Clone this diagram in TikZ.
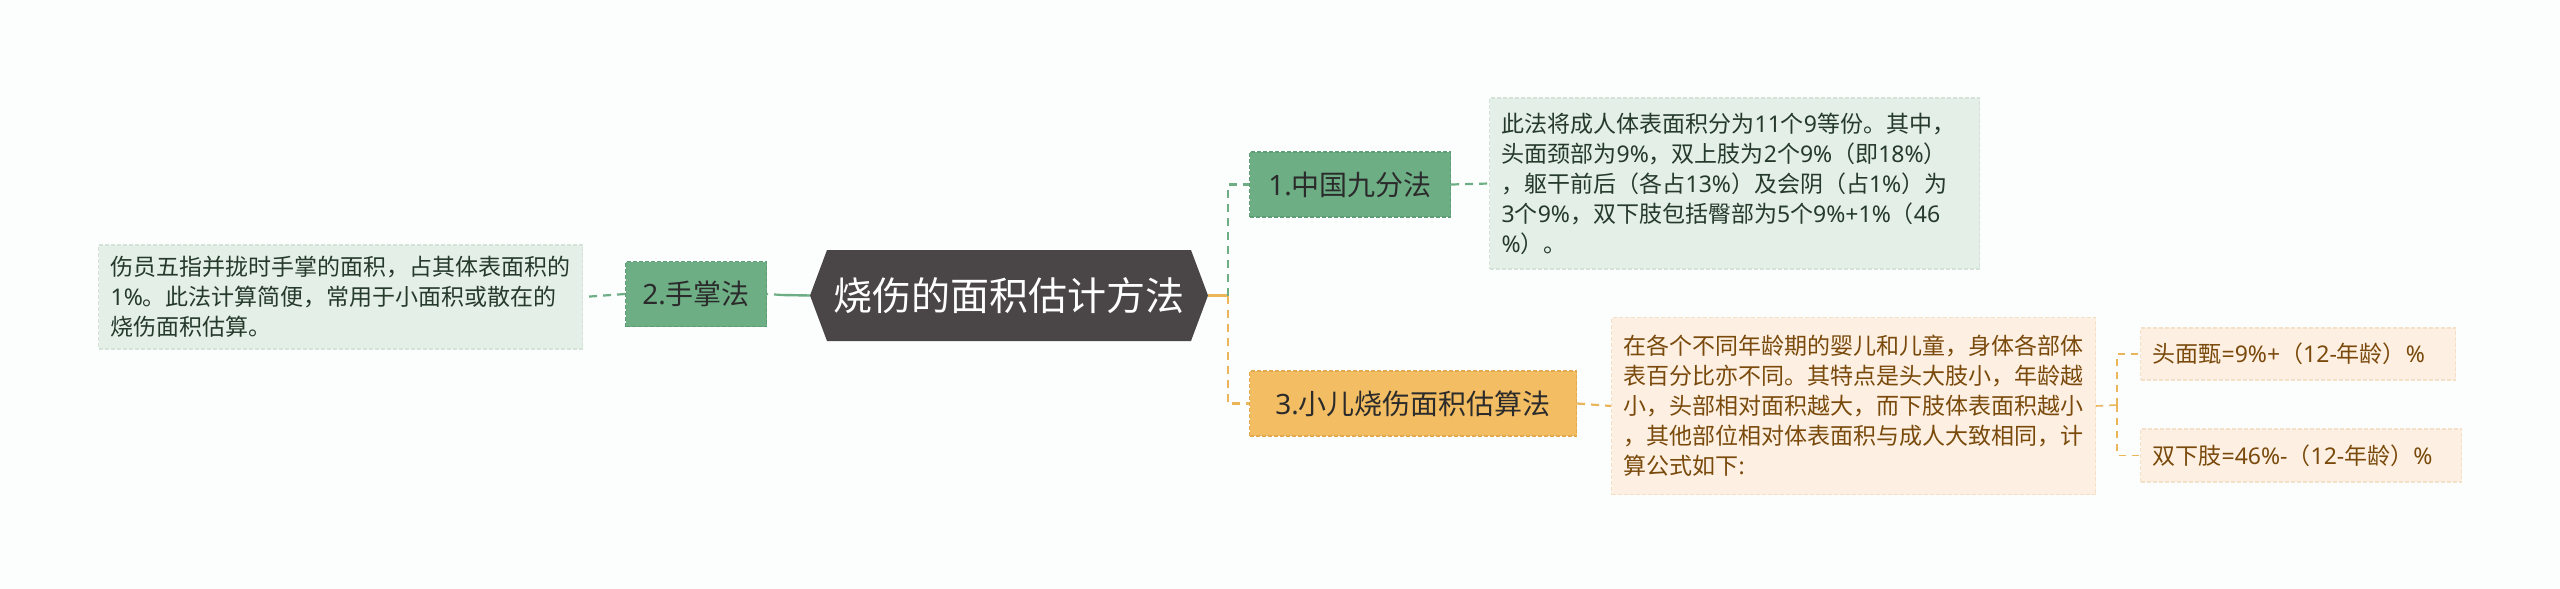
\documentclass[tikz,border=0pt]{standalone}
\usepackage{fontspec}
\setmainfont{Noto Sans CJK SC}
\newfontfamily\latinf{Noto Sans}
\newcommand{\nm}[1]{{\latinf #1}}
\usetikzlibrary{shapes.symbols}
\definecolor{bgc}{HTML}{FCFEFE}
\definecolor{cdark}{HTML}{4A4546}
\definecolor{gfill}{HTML}{6DAE85}
\definecolor{gbord}{HTML}{5E9D75}
\definecolor{gleaf}{HTML}{E4EFE7}
\definecolor{gleafb}{HTML}{D3E3D8}
\definecolor{gtext}{HTML}{263A2C}
\definecolor{ofill}{HTML}{F2BD63}
\definecolor{obord}{HTML}{E2A94F}
\definecolor{oleaf}{HTML}{FDF0E2}
\definecolor{oleafb}{HTML}{F4E0C6}
\definecolor{otext}{HTML}{7A4A0C}
\definecolor{gline}{HTML}{6DAE85}
\definecolor{oline}{HTML}{EBB55A}
\definecolor{btext}{HTML}{2B2B2B}
\tikzset{
  leafbox/.style={draw, dashed, dash pattern=on 4pt off 2pt, line width=1.2pt, align=left, anchor=west,
    font=\fontsize{23}{30}\selectfont},
  gleafbox/.style={leafbox, fill=gleaf, draw=gleafb, text=gtext},
  oleafbox/.style={leafbox, fill=oleaf, draw=oleafb, text=otext},
  branch/.style={draw, dash pattern=on 4pt off 2pt, line width=1.2pt, anchor=west, text=btext,
    font=\fontsize{28}{34}\selectfont, inner xsep=0pt, minimum height=65pt},
  gbranch/.style={branch, fill=gfill, draw=gbord},
  obranch/.style={branch, fill=ofill, draw=obord},
  gdash/.style={draw=gline, line width=2.2pt, dash pattern=on 8pt off 6pt},
  odash/.style={draw=oline, line width=2.2pt, dash pattern=on 8pt off 6pt},
  osmall/.style={draw=oline, line width=1.6pt, dash pattern=on 7pt off 6pt},
  gsolid/.style={draw=gline, line width=2.4pt},
  osolid/.style={draw=oline, line width=2.4pt},
}
\begin{document}
\begin{tikzpicture}[x=1pt,y=-1pt]
\fill[bgc] (0,0) rectangle (2560,589);
\useasboundingbox (0,0) rectangle (2560,589);

% center
\node[signal, signal to=west and east, signal pointer angle=139, fill=cdark, text=white,
  minimum width=398pt, minimum height=91pt, inner sep=0pt,
  font=\fontsize{39}{44}\selectfont] (C) at (1009,295.5) {烧伤的面积估计方法};

% branches
\node[gbranch, minimum width=141pt] (B2) at (625,294) {\nm{2.}手掌法};
\node[gbranch, minimum width=201pt] (B1) at (1249,184.5) {\nm{1.}中国九分法};
\node[obranch, minimum width=327pt] (B3) at (1249,403.5) {\nm{3.}小儿烧伤面积估算法};

% leaves
\node[gleafbox, text width=460pt, inner xsep=12pt, inner ysep=7pt, minimum height=104pt] (L) at (98,297)
 {伤员五指并拢时手掌的面积，占其体表面积的\\\nm{1\%}。此法计算简便，常用于小面积或散在的\\烧伤面积估算。};
\node[gleafbox, text width=466pt, inner xsep=12pt, inner ysep=10pt, minimum height=171pt] (G) at (1489,183.5)
 {此法将成人体表面积分为\nm{11}个\nm{9}等份。其中，\\头面颈部为\nm{9\%}，双上肢为\nm{2}个\nm{9\%}（即\nm{18\%}）\\，躯干前后（各占\nm{13\%}）及会阴（占\nm{1\%}）为\\\nm{3}个\nm{9\%}，双下肢包括臀部为\nm{5}个\nm{9\%+1\%}（\nm{46}\\\nm{\%}）。};
\node[oleafbox, text width=460pt, inner xsep=12pt, inner ysep=12pt, minimum height=177pt] (O) at (1611,406)
 {在各个不同年龄期的婴儿和儿童，身体各部体\\表百分比亦不同。其特点是头大肢小，年龄越\\小，头部相对面积越大，而下肢体表面积越小\\，其他部位相对体表面积与成人大致相同，计\\算公式如下\nm{:}};
\node[oleafbox, text width=291pt, inner xsep=12pt, inner ysep=4pt, minimum height=52pt] (F1) at (2140,354)
 {头面甄\nm{=9\%+}（\nm{12-}年龄）\nm{\%}};
\node[oleafbox, text width=297pt, inner xsep=12pt, inner ysep=4pt, minimum height=53pt] (F2) at (2140,455.5)
 {双下肢\nm{=46\%-}（\nm{12-}年龄）\nm{\%}};

% connectors
\coordinate (jr) at (1228,295.5);
\coordinate (jl) at (782,295);
\coordinate (jf) at (2117,405);
\draw[osolid] (C.east) -- (jr);
\draw[gdash] (jr) |- (B1.west);
\draw[odash] (jr) |- (B3.west);
\draw[gsolid] (C.west) -- (jl);
\draw[gdash] (jl) -- (B2.east);
\draw[gdash] (B2.west) -- (L.east);
\draw[gdash] (B1.east) -- (G.west);
\draw[odash] (B3.east) -- (O.west);
\draw[osmall] (O.east) -- (jf);
\draw[osmall] (jf) |- (F1.west);
\draw[osmall] (jf) |- (F2.west);
\end{tikzpicture}
\end{document}
